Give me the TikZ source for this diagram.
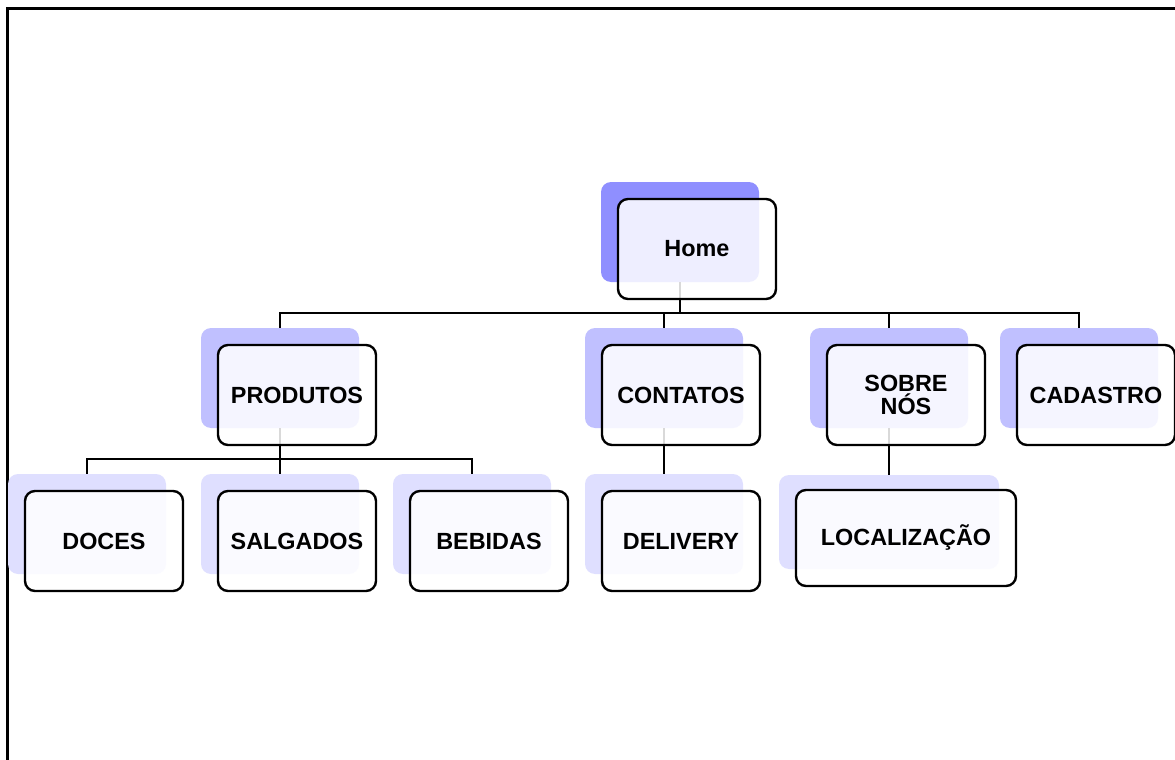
\documentclass[tikz,border=0pt]{standalone}
\usepackage{fontspec}
\setmainfont{Liberation Sans}
\usetikzlibrary{calc}

\definecolor{homeBack}{HTML}{8F8FFF}
\definecolor{levelOne}{HTML}{C0C0FF}
\definecolor{levelTwo}{HTML}{DFDFFF}

\begin{document}
\begin{tikzpicture}[x=0.5pt, y=-0.5pt, every node/.style={font=\bfseries\fontsize{11.7}{11.5}\selectfont}]

		\useasboundingbox (0,0) rectangle (1175,760);
		\tikzset{backbox/.style={rounded corners=5pt, minimum width=79pt, minimum height=50pt, inner sep=0pt},
			frontbox/.style={draw, line width=1.2pt, rounded corners=5pt, fill=white, fill opacity=0.85, text opacity=1,
				minimum width=79pt, minimum height=50pt, inner sep=0pt, align=center},
			link/.style={line width=1.1pt}}

		% outer frame
		\draw[line width=1.5pt] (7,760) -- (7,8) -- (1175,8);

		% shadow boxes
		\node[backbox, fill=homeBack] (back-home) at (680,232) {};
		\foreach \n/\x in {prod/280, cont/664, sobre/889, cad/1079}{\node[backbox, fill=levelOne] (back-\n) at (\x,378) {};}
		\foreach \n/\x in {doces/87, salg/280, bebi/472, deliv/664}{\node[backbox, fill=levelTwo] (back-\n) at (\x,524) {};}
		\node[backbox, fill=levelTwo, minimum width=110pt, minimum height=47pt] (back-local) at (889,522) {};

		% connectors
		\coordinate (busTop) at (0,313);
		\coordinate (busProd) at (0,459);
		\draw[link] (back-home.south) -- (back-home.south |- busTop);
		\draw[link] (back-prod.north) |- (back-cad.north |- busTop) -- (back-cad.north);
		\foreach \n in {cont, sobre}{\draw[link] (back-\n.north |- busTop) -- (back-\n.north);}
		\draw[link] (back-doces.north) |- (back-bebi.north |- busProd) -- (back-bebi.north);
		\draw[link] (back-prod.south) -- (back-salg.north);
		\draw[link] (back-cont.south) -- (back-deliv.north);
		\draw[link] (back-sobre.south) -- (back-local.north);

		% labelled boxes
		\node[frontbox] (home) at ($(back-home)+(17,17)$) {Home};
		\node[frontbox] (prod) at ($(back-prod)+(17,17)$) {PRODUTOS};
		\node[frontbox] (cont) at ($(back-cont)+(17,17)$) {CONTATOS};
		\node[frontbox] (sobre) at ($(back-sobre)+(17,17)$) {SOBRE\\NÓS};
		\node[frontbox] (cad) at ($(back-cad)+(17,17)$) {CADASTRO};
		\node[frontbox] (doces) at ($(back-doces)+(17,17)$) {DOCES};
		\node[frontbox] (salg) at ($(back-salg)+(17,17)$) {SALGADOS};
		\node[frontbox] (bebi) at ($(back-bebi)+(17,17)$) {BEBIDAS};
		\node[frontbox] (deliv) at ($(back-deliv)+(17,17)$) {DELIVERY};
		\node[frontbox, minimum width=110pt, minimum height=48pt] (local) at ($(back-local)+(17,16)$) {LOCALIZAÇÃO};
	\end{tikzpicture}
\end{document}
